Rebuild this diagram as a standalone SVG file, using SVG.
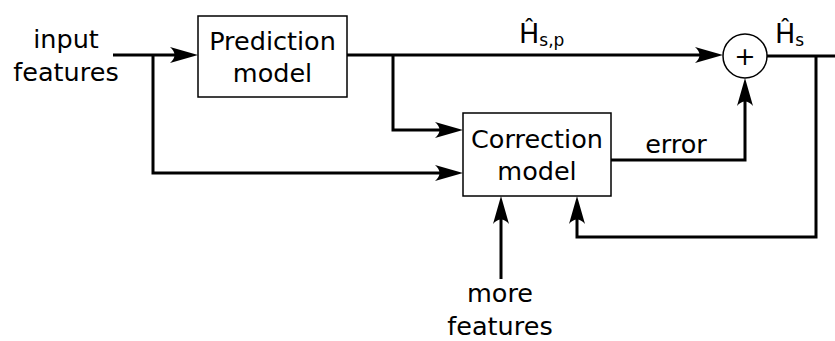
<svg xmlns="http://www.w3.org/2000/svg" width="835" height="341" viewBox="0 0 835 341">
<style>
text{font-family:"DejaVu Sans",sans-serif;font-size:25.5px;fill:#000;text-anchor:middle}
.box{fill:#fff;stroke:#000;stroke-width:1.5}
.wire{fill:none;stroke:#000;stroke-width:3}
.sub{font-size:17px}
.hat{text-anchor:start;font-size:27px}
</style>
<defs>
<marker id="arr" markerUnits="userSpaceOnUse" markerWidth="40" markerHeight="20" refX="0" refY="0" orient="auto" overflow="visible">
<path d="M18,0 L-10,-8 C-4,-3 -4,3 -10,8 Z" fill="#000"/>
</marker>
</defs>
<rect width="835" height="341" fill="#fff"/>
<g id="connectors">
<path class="wire" d="M113,55 H180" marker-end="url(#arr)"/>
<path class="wire" d="M153,55 V173 H445" marker-end="url(#arr)"/>
<path class="wire" d="M347,55 H705" marker-end="url(#arr)"/>
<path class="wire" d="M393,55 V130 H445" marker-end="url(#arr)"/>
<path class="wire" d="M611,160 H745 V96" marker-end="url(#arr)"/>
<path class="wire" d="M767,56 H835"/>
<path class="wire" d="M816,56 V237 H577 V214" marker-end="url(#arr)"/>
<path class="wire" d="M501,279 V214" marker-end="url(#arr)"/>
</g>
<g id="input-features">
<text x="66" y="48">input</text>
<text x="66" y="81">features</text>
</g>
<g id="prediction-model">
<rect class="box" x="198" y="16" width="149" height="81"/>
<text x="272.5" y="50">Prediction</text>
<text x="272.5" y="82">model</text>
</g>
<g id="correction-model">
<rect class="box" x="463" y="113" width="148" height="83"/>
<text x="537" y="148">Correction</text>
<text x="537" y="180">model</text>
</g>
<g id="sum">
<circle class="box" cx="745" cy="56" r="22"/>
<text x="745" y="65">+</text>
</g>
<g id="more-features">
<text x="500" y="302">more</text>
<text x="500" y="335">features</text>
</g>
<g id="labels">
<text x="676" y="153">error</text>
<text class="hat" x="519" y="43">Ĥ<tspan class="sub" dy="3">s,p</tspan></text>
<text class="hat" x="775" y="43">Ĥ<tspan class="sub" dy="3">s</tspan></text>
</g>
</svg>
